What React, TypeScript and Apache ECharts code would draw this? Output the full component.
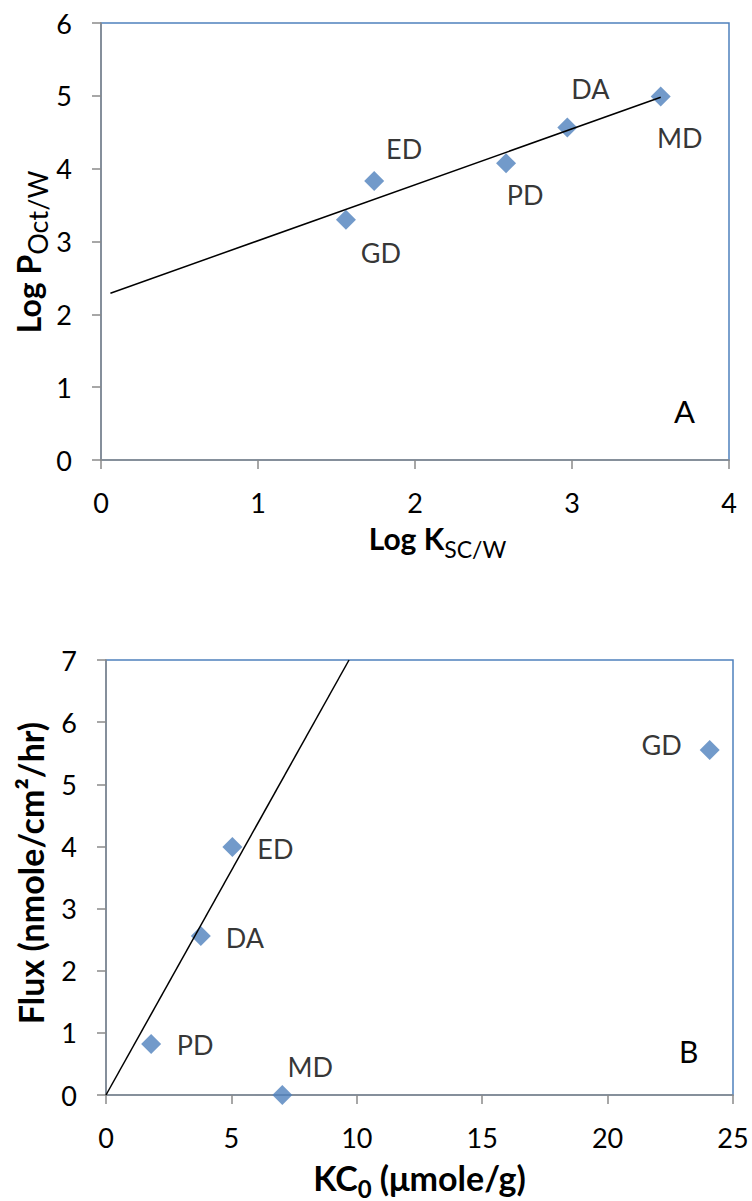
import React, { useEffect, useRef } from 'react';
import * as echarts from 'echarts';

// Panel A data
const namesA = ['GD', 'ED', 'PD', 'DA', 'MD'];
const logKscw = [1.56, 1.74, 2.58, 2.97, 3.565];
const logPoct = [3.3, 3.83, 4.075, 4.565, 4.99];
const trendAx = [0.06, 3.565];
const trendAy = [2.29, 4.98];
const ticksA_x = [0, 1, 2, 3, 4];
const ticksA_y = [0, 1, 2, 3, 4, 5, 6];

// Panel B data
const namesB = ['PD', 'DA', 'ED', 'MD', 'GD'];
const kc0 = [1.8, 3.78, 5.04, 7.03, 24.07];
const flux = [0.82, 2.56, 3.99, 0, 5.55];
const trendBx = [0, 9.69];
const trendBy = [0, 7];
const ticksB_x = [0, 5, 10, 15, 20, 25];
const ticksB_y = [0, 1, 2, 3, 4, 5, 6, 7];

const FONT = 'Lato';
const TXT = '#000000';
const AXIS = '#8a8a8a';
const BLUE = '#4F81BD';

const offA: Record<string, [number, number]> = {
  GD: [35, 33], ED: [30, -33], PD: [19, 31], DA: [23, -39], MD: [19, 41],
};
const offB: Record<string, [number, number]> = {
  PD: [44, 0], DA: [44, 2], ED: [43, 1], MD: [28, -29], GD: [-48, -6],
};

function axisCommon(ticks: number[]) {
  return {
    type: 'value' as const,
    min: ticks[0],
    max: ticks[ticks.length - 1],
    interval: ticks[1] - ticks[0],
    splitLine: { show: false },
    axisLine: { show: true, onZero: false, lineStyle: { color: AXIS, width: 1.5 } },
    axisTick: { show: true, inside: false, length: 9, lineStyle: { color: AXIS, width: 1.5 } },
    axisLabel: { fontSize: 27, fontFamily: FONT, color: TXT, margin: 29 },
  };
}

const mainA = { fontSize: 30, fontWeight: 'bold', fontFamily: FONT, color: TXT, lineHeight: 44 };
const subA = { fontSize: 23, fontFamily: FONT, color: TXT, lineHeight: 10, verticalAlign: 'bottom' };
const mainAy = { fontSize: 32, fontWeight: 'bold', fontFamily: FONT, fill: TXT, lineHeight: 46 };
const subAy = { fontSize: 27, fontFamily: FONT, fill: TXT, lineHeight: 10, verticalAlign: 'bottom' };
const mainB = { fontSize: 34, fontWeight: 'bold', fontFamily: FONT, color: TXT, lineHeight: 46 };
const subB = { fontSize: 24, fontWeight: 'bold', fontFamily: FONT, color: TXT, lineHeight: 10, verticalAlign: 'bottom' };

function buildOption() {
  return {
    animation: false,
    backgroundColor: '#ffffff',
    grid: [
      { left: 101, top: 23, width: 628, height: 437, show: true, borderColor: BLUE, borderWidth: 1.5, backgroundColor: 'transparent' },
      { left: 106, top: 660, width: 627, height: 439, show: true, borderColor: BLUE, borderWidth: 1.5, backgroundColor: 'transparent' },
    ],
    xAxis: [
      {
        ...axisCommon(ticksA_x),
        gridIndex: 0,
        name: '{m|Log K}{s|SC/W}',
        nameLocation: 'middle',
        nameGap: 56,
        nameTextStyle: { padding: [0, 0, 0, 45], rich: { m: mainA, s: subA } },
      },
      {
        ...axisCommon(ticksB_x),
        gridIndex: 1,
        name: '{m|KC}{s|0}{m| (μmole/g)}',
        nameLocation: 'middle',
        nameGap: 59,
        nameTextStyle: { rich: { m: mainB, s: subB } },
      },
    ],
    yAxis: [
      { ...axisCommon(ticksA_y), gridIndex: 0 },
      { ...axisCommon(ticksB_y), gridIndex: 1 },
    ],
    graphic: [
      {
        type: 'text', x: 28, y: 252, rotation: Math.PI / 2,
        style: {
          text: '{m|Log P}{s|Oct/W}', align: 'center', verticalAlign: 'middle',
          rich: { m: mainAy, s: subAy },
        },
      },
      {
        type: 'text', x: 30, y: 873, rotation: Math.PI / 2,
        style: {
          text: 'Flux (nmole/cm²/hr)', align: 'center', verticalAlign: 'middle',
          fontSize: 34, fontWeight: 'bold', fontFamily: FONT, fill: TXT,
        },
      },
      { type: 'text', left: 674, top: 395, style: { text: 'A', fontSize: 31, fontFamily: FONT, fill: TXT } },
      { type: 'text', left: 679, top: 1036, style: { text: 'B', fontSize: 30, fontFamily: FONT, fill: TXT } },
    ],
    series: [
      {
        type: 'scatter',
        xAxisIndex: 0,
        yAxisIndex: 0,
        symbol: 'diamond',
        symbolSize: 20,
        itemStyle: { color: BLUE },
        label: { show: true, position: 'inside', formatter: '{b}', fontSize: 27, fontFamily: FONT, color: TXT },
        data: namesA.map((n, i) => ({ name: n, value: [logKscw[i], logPoct[i]], label: { offset: offA[n] } })),
        z: 2,
      },
      {
        type: 'line',
        xAxisIndex: 0,
        yAxisIndex: 0,
        symbol: 'none',
        lineStyle: { color: '#000', width: 1.5 },
        data: trendAx.map((x, i) => [x, trendAy[i]]),
        z: 3,
      },
      {
        type: 'scatter',
        xAxisIndex: 1,
        yAxisIndex: 1,
        symbol: 'diamond',
        symbolSize: 20,
        itemStyle: { color: BLUE },
        label: { show: true, position: 'inside', formatter: '{b}', fontSize: 27, fontFamily: FONT, color: TXT },
        data: namesB.map((n, i) => ({ name: n, value: [kc0[i], flux[i]], label: { offset: offB[n] } })),
        clip: false,
        z: 2,
      },
      {
        type: 'line',
        xAxisIndex: 1,
        yAxisIndex: 1,
        symbol: 'none',
        lineStyle: { color: '#000', width: 1.5 },
        data: trendBx.map((x, i) => [x, trendBy[i]]),
        z: 3,
      },
    ],
  };
}

export default function App() {
  const ref = useRef<HTMLDivElement>(null);
  useEffect(() => {
    document.body.style.margin = '0';
    const chart = echarts.init(ref.current!, null, { renderer: 'svg' });
    chart.setOption(buildOption() as any);
    return () => chart.dispose();
  }, []);
  return <div ref={ref} style={{ width: 752, height: 1201 }} />;
}
